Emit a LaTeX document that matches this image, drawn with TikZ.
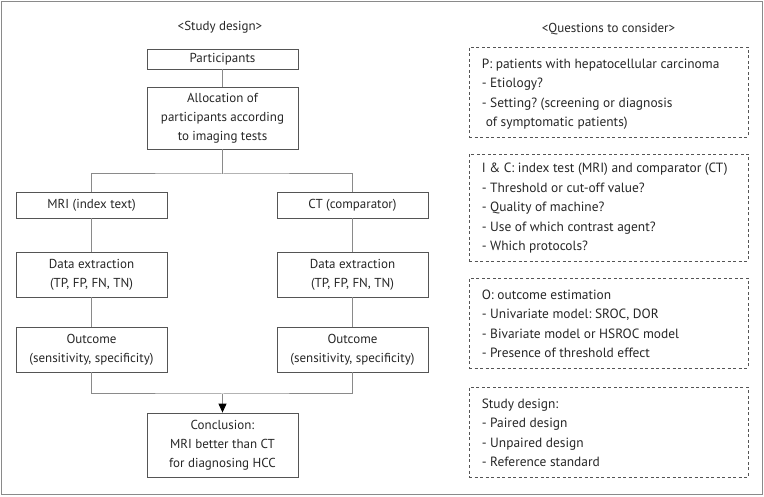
\documentclass[tikz,border=0pt]{standalone}
\usepackage{fontspec}
\setmainfont{PT Sans}
\usetikzlibrary{arrows.meta}
\definecolor{boxc}{HTML}{555555}
\definecolor{linec}{HTML}{8A8A8A}
\frenchspacing
\begin{document}
\begin{tikzpicture}[x=1pt,y=-1pt,
  every node/.style={font=\fontsize{13}{19}\selectfont, text=black!85},
  sbox/.style={draw=boxc, line width=0.8pt, minimum width=151pt, inner sep=0pt, align=center},
  qbox/.style={draw=boxc, line width=0.8pt, dash pattern=on 3pt off 2.5pt, minimum width=279pt, inner sep=0pt},
  qtext/.style={anchor=west, align=left, inner sep=0pt, font=\fontsize{13.4}{19.5}\selectfont},
  conn/.style={draw=linec, line width=1pt},
  title/.style={font=\fontsize{13}{16}\selectfont}]
\useasboundingbox (0,0) rectangle (764,497);
\draw[linec, line width=1pt] (1.5,2) rectangle (762,494.5);
% titles
\node[title] (t1) at (220,27) {<Study design>};
\node[title] (t2) at (608.5,29) {<Questions to consider>};
% left flow
\node[sbox, minimum height=20pt] (part) at (222.5,59) {Participants};
\node[sbox, minimum height=62pt] (alloc) at (222.5,118) {Allocation of\\participants according\\to imaging tests};
\node[sbox, minimum height=26pt] (mri) at (91.5,205) {MRI (index text)};
\node[sbox, minimum height=26pt] (ct) at (352.5,205) {CT (comparator)};
\node[sbox, minimum height=45pt] (dl) at (91.5,274.5) {Data extraction\\(TP, FP, FN, TN)};
\node[sbox, minimum height=45pt] (dr) at (352.5,274.5) {Data extraction\\(TP, FP, FN, TN)};
\node[sbox, minimum height=45pt] (ol) at (91.5,349.5) {Outcome\\(sensitivity, specificity)};
\node[sbox, minimum height=45pt] (or) at (352.5,349.5) {Outcome\\(sensitivity, specificity)};
\node[sbox, minimum height=64pt] (concl) at (222.5,445) {Conclusion:\\MRI better than CT\\for diagnosing HCC};
\coordinate (split) at (222.5,174);
\coordinate (join) at (222.5,394);
\draw[conn] (part) -- (alloc);
\draw[conn] (alloc) -- (split);
\draw[conn] (mri.north) |- (split) -| (ct.north);
\draw[conn] (mri) -- (dl);
\draw[conn] (ct) -- (dr);
\draw[conn] (dl) -- (ol);
\draw[conn] (dr) -- (or);
\draw[conn] (ol.south) |- (join) -| (or.south);
\draw[conn, -{Triangle[length=9pt,width=8pt,color=black]}] (join) -- (concl.north);
% right column
\node[qbox, minimum height=90pt] (qp) at (608.5,92) {};
\node[qtext] (qpt) at ([xshift=13pt,yshift=-2pt]qp.west) {P: patients with hepatocellular carcinoma\\- Etiology?\\- Setting? (screening or diagnosis\\\hspace*{0.3em}of symptomatic patients)};
\node[qbox, minimum height=107pt] (qi) at (608.5,207.5) {};
\node[qtext] (qit) at ([xshift=13pt,yshift=-1pt]qi.west) {I \& C: index test (MRI) and comparator (CT)\\- Threshold or cut-off value?\\- Quality of machine?\\- Use of which contrast agent?\\- Which protocols?};
\node[qbox, minimum height=90pt] (qo) at (608.5,323) {};
\node[qtext] (qot) at ([xshift=13pt,yshift=-1pt]qo.west) {O: outcome estimation\\- Univariate model: SROC, DOR\\- Bivariate model or HSROC model\\- Presence of threshold effect};
\node[qbox, minimum height=90pt] (qs) at (608.5,432) {};
\node[qtext] (qst) at ([xshift=13pt,yshift=-1pt]qs.west) {Study design:\\- Paired design\\- Unpaired design\\- Reference standard};
\end{tikzpicture}
\end{document}
